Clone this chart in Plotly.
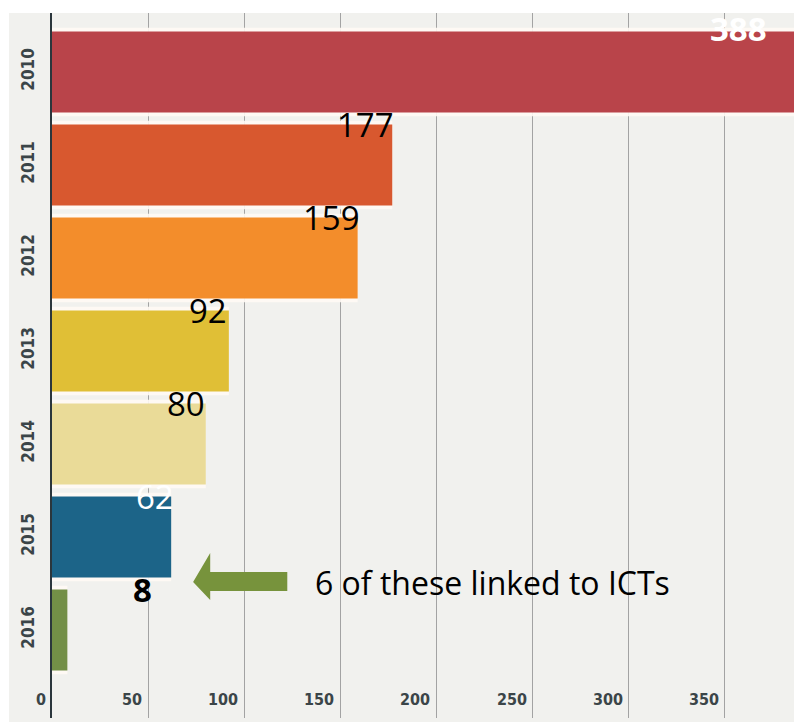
import plotly.graph_objects as go

# Incidents per year
years = ["2010", "2011", "2012", "2013", "2014", "2015", "2016"]
counts = [388, 177, 159, 92, 80, 62, 8]
bar_colors = ["#b9444a", "#d8582f", "#f38d2b", "#e0bf36", "#eadb98", "#1c6488", "#738f47"]
x_ticks = [0, 50, 100, 150, 200, 250, 300, 350]

# label styling per bar: (font colour, bold, x shift px, y shift px)
label_style = [
    ("white", True, -25, 3),
    ("black", False, 4, 0),
    ("black", False, 4, 0),
    ("black", False, 0, 0),
    ("black", False, 1, 0),
    ("white", False, 5, 0),
    ("black", True, 87, 0),
]

X_MAX = 386
Y_RANGE = [6.946, -0.634]
AXIS_FONT = "Liberation Sans Narrow, DejaVu Sans Condensed, Arial Narrow, Arial"

fig = go.Figure()

# soft white halo behind each bar
fig.add_trace(go.Bar(
    y=years, x=counts, orientation="h", width=0.95,
    marker=dict(color="rgba(255,250,244,0.9)", line=dict(width=0)),
    hoverinfo="skip", showlegend=False,
))
fig.add_trace(go.Bar(
    y=years, x=counts, orientation="h", width=0.87,
    marker=dict(color=bar_colors, line=dict(width=0)),
    showlegend=False,
))

annotations = []
for i, (yr, v) in enumerate(zip(years, counts)):
    color, bold, dx, dy = label_style[i]
    txt = f"<b>{v}</b>" if bold else str(v)
    annotations.append(dict(
        x=min(v, X_MAX), y=i - 0.44, xref="x", yref="y", text=txt, showarrow=False,
        xanchor="right", yanchor="middle", xshift=dx, yshift=dy,
        font=dict(family="Open Sans", size=33, color=color),
    ))

# x tick labels, set just left of each gridline
for t in x_ticks:
    annotations.append(dict(
        x=t, y=0.026, xref="x", yref="paper", text=f"<b>{t}</b>", showarrow=False,
        xanchor="right", yanchor="middle", xshift=-4,
        font=dict(family=AXIS_FONT, size=16, color="#3b4548"),
    ))

# note next to the 2016 bar
annotations.append(dict(
    x=136, y=5.49, xref="x", yref="y", text="6 of these linked to ICTs",
    showarrow=False, xanchor="left", yanchor="middle",
    font=dict(family="Open Sans", size=32, color="black"),
))

shapes = [
    # white strip above the plot and at the far left
    dict(type="rect", xref="paper", yref="paper", x0=-0.08, x1=1.01, y0=1.0, y1=1.03,
         fillcolor="white", line=dict(width=0), layer="below"),
    dict(type="rect", xref="paper", yref="paper", x0=-0.08, x1=-0.058, y0=-0.02, y1=1.03,
         fillcolor="white", line=dict(width=0), layer="below"),
    # green arrow pointing at the 2016 label
    dict(type="path", xref="x", yref="y",
         path="M 73.4 5.484 L 82.3 5.172 L 82.3 5.376 L 122.4 5.376 "
              "L 122.4 5.581 L 82.3 5.581 L 82.3 5.677 Z",
         fillcolor="#77933c", line=dict(width=0)),
]

fig.update_layout(
    width=794, height=722,
    margin=dict(l=52, r=0, t=13, b=4),
    paper_bgcolor="#f1f1ee", plot_bgcolor="#f1f1ee",
    barmode="overlay", bargap=0.13,
    annotations=annotations, shapes=shapes,
    xaxis=dict(
        range=[0, X_MAX], tickvals=x_ticks, showticklabels=False,
        showgrid=True, gridcolor="#a3a3a3", gridwidth=1, zeroline=False,
        showline=False,
    ),
    yaxis=dict(
        categoryorder="array", categoryarray=years, range=Y_RANGE,
        tickangle=-90, ticks="", ticklabelstandoff=9,
        tickprefix="<b>", ticksuffix="</b>",
        tickfont=dict(family=AXIS_FONT, size=17, color="#3b4548"),
        showgrid=False, zeroline=False,
        showline=True, linecolor="#2b363c", linewidth=2,
    ),
)

fig.write_html("out.html")
